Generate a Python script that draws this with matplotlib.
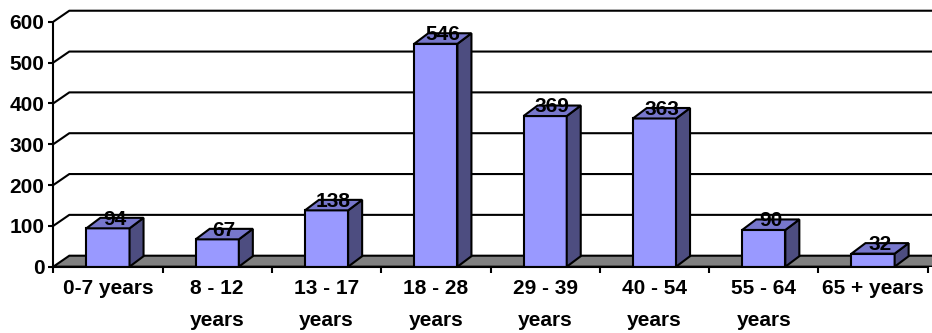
import numpy as np
import matplotlib
matplotlib.use('Agg')
import matplotlib.pyplot as plt
from matplotlib.patches import Polygon

plt.rcParams['font.family'] = ['Liberation Sans', 'DejaVu Sans']
plt.rcParams['font.weight'] = 'bold'

# data
age_groups = ['0-7 years', '8 - 12\nyears', '13 - 17\nyears', '18 - 28\nyears',
              '29 - 39\nyears', '40 - 54\nyears', '55 - 64\nyears', '65 + years']
counts = [94, 67, 138, 546, 369, 363, 90, 32]
y_ticks = [0, 100, 200, 300, 400, 500, 600]

# pixel scales of the reference (used only for the fake 3d depth)
W, H = 932, 333
px_cat = 109.3      # px per category
px_val = 0.4083     # px per unit
x0_px = 53.3
y0_px = 266.7

fig = plt.figure(figsize=(W / 100, H / 100), dpi=100)
ax = fig.add_axes([x0_px / W, (H - y0_px) / H, (W - x0_px) / W, y0_px / H])
ax.set_xlim(0, (W - x0_px) / px_cat)
ax.set_ylim(0, y0_px / px_val)

# depth offsets in data units
wall_dx, wall_dy = 16 / px_cat, 11 / px_val
bar_dx, bar_dy = 14 / px_cat, 10.5 / px_val
n = len(counts)
bar_w = 0.395

front = '#9999FF'
top = '#7777CC'
side = '#4D4D80'
lw = 1.5
fs = 15

# floor
ax.add_patch(Polygon([(0, 0), (wall_dx, wall_dy), (n + wall_dx + 1, wall_dy), (n + 1, 0)],
                     closed=True, facecolor='#808080', edgecolor='black', lw=lw, zorder=1))

# back wall gridlines and side wall diagonals
for v in y_ticks[1:]:
    ax.plot([0, wall_dx, n + 2], [v, v + wall_dy, v + wall_dy], color='black', lw=lw,
            zorder=1, solid_capstyle='butt')

# bars
centers = np.arange(n) + 0.5
bars = ax.bar(centers, counts, width=bar_w, color=front, edgecolor='black', lw=lw, zorder=3)
for c, v in zip(centers, counts):
    l, r = c - bar_w / 2, c + bar_w / 2
    ax.add_patch(Polygon([(r, 0), (r + bar_dx, bar_dy), (r + bar_dx, v + bar_dy), (r, v)],
                         closed=True, facecolor=side, edgecolor='black', lw=lw, zorder=3))
    ax.add_patch(Polygon([(l, v), (l + bar_dx, v + bar_dy), (r + bar_dx, v + bar_dy), (r, v)],
                         closed=True, facecolor=top, edgecolor='black', lw=lw, zorder=3))
    ax.annotate(str(v), (c + bar_dx / 2, v + bar_dy), xytext=(0, -1),
                textcoords='offset points', ha='center', va='center',
                fontsize=fs, fontweight='bold', zorder=5)

# axes
for s in ['top', 'right']:
    ax.spines[s].set_visible(False)
ax.spines['left'].set_bounds(0, 600)
ax.spines['bottom'].set_bounds(0, n)
ax.spines['left'].set_linewidth(lw)
ax.spines['bottom'].set_linewidth(lw)
ax.spines['left'].set_zorder(4)
ax.spines['bottom'].set_zorder(4)

ax.set_yticks(y_ticks)
ax.set_yticklabels([str(t) for t in y_ticks], fontsize=fs, fontweight='bold')
ax.tick_params(axis='y', direction='out', length=3.5, width=lw, pad=3)

ax.set_xticks(np.arange(n + 1))
ax.set_xticklabels([])
ax.tick_params(axis='x', which='major', direction='out', length=4, width=lw)
ax.set_xticks(centers, minor=True)
ax.set_xticklabels(age_groups, minor=True, fontsize=fs, fontweight='bold', linespacing=1.85)
ax.tick_params(axis='x', which='minor', length=0, pad=9)

fig.savefig('out.png', dpi=100)
